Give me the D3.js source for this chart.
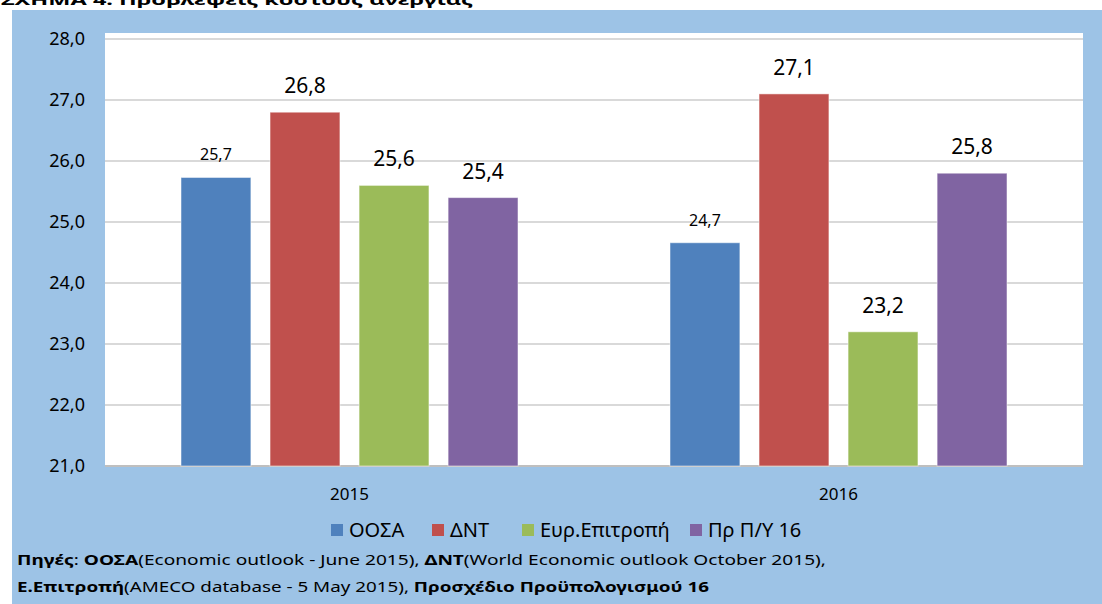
<!DOCTYPE html>
<html>
<head>
<meta charset="utf-8">
<script src="https://cdn.jsdelivr.net/npm/d3@7"></script>
<style>
  body { margin: 0; background: #fff; }
  svg { display: block; font-family: "Noto Sans", "Open Sans", sans-serif; }
</style>
</head>
<body>
<script>
// data
var years = ["2015", "2016"];
var series = ["ΟΟΣΑ", "ΔΝΤ", "Ευρ.Επιτροπή", "Πρ Π/Υ 16"];
var colors = ["#4f81bd", "#c0504d", "#9bbb59", "#8064a2"];
var oosa = [25.73, 24.66];
var dnt = [26.8, 27.1];
var eurEp = [25.6, 23.2];
var prPY = [25.4, 25.8];
var yTicks = [21, 22, 23, 24, 25, 26, 27, 28];

var W = 1102, H = 604;
var svg = d3.select("body").append("svg").attr("width", W).attr("height", H);

// title (cut at the top in the original)
svg.append("text").attr("x", 1).attr("y", 5)
  .attr("font-size", 15).attr("font-weight", "bold")
  .attr("textLength", 472).attr("lengthAdjust", "spacingAndGlyphs")
  .text("ΣΧΗΜΑ 4: Προβλέψεις κόστους ανεργίας");

// blue background
svg.append("rect").attr("x", 12).attr("y", 10).attr("width", W - 12).attr("height", H - 10)
  .attr("fill", "#9dc3e6");

var pLeft = 105, pRight = 1083, pTop = 39, pBottom = 466;

svg.append("rect").attr("x", pLeft).attr("y", pTop - 6).attr("width", pRight - pLeft).attr("height", pBottom - pTop + 6)
  .attr("fill", "#fff");

var y = d3.scaleLinear().domain([21, 28]).range([pBottom, pTop]);
var x0 = d3.scaleBand().domain(years).range([pLeft, pRight]);
var x1 = d3.scaleBand().domain(d3.range(4)).range([76, x0.bandwidth() - 76]).paddingInner(0.215);

// gridlines
svg.append("g").selectAll("line").data(yTicks).join("line")
  .attr("x1", pLeft).attr("x2", pRight)
  .attr("y1", function(d){ return y(d); }).attr("y2", function(d){ return y(d); })
  .attr("stroke", function(d){ return d == 21 ? "#bfbfbf" : "#d9d9d9"; })
  .attr("stroke-width", 2);

// y tick labels
svg.append("g").selectAll("text").data(yTicks).join("text")
  .attr("x", 85).attr("y", function(d){ return y(d) + 6; })
  .attr("text-anchor", "end").attr("font-size", 18)
  .text(function(d){ return d.toFixed(1).replace(".", ","); });

// bars
var rows = [oosa, dnt, eurEp, prPY];
var bars = [];
years.forEach(function(yr, i){
  rows.forEach(function(r, j){
    bars.push({year: yr, s: j, v: r[i]});
  });
});

svg.append("g").selectAll("rect").data(bars).join("rect")
  .attr("x", function(d){ return x0(d.year) + x1(d.s); })
  .attr("y", function(d){ return y(d.v); })
  .attr("width", x1.bandwidth())
  .attr("height", function(d){ return pBottom - y(d.v); })
  .attr("fill", function(d){ return colors[d.s]; })
  .attr("stroke", "#fff").attr("stroke-opacity", 0.5).attr("stroke-width", 1);

// value labels
svg.append("g").selectAll("text").data(bars).join("text")
  .attr("x", function(d){ return x0(d.year) + x1(d.s) + x1.bandwidth() / 2; })
  .attr("y", function(d){ return y(d.v) - (d.s == 0 ? 17 : 19); })
  .attr("text-anchor", "middle")
  .attr("font-size", function(d){ return d.s == 0 ? 16 : 21; })
  .text(function(d){ return d.v.toFixed(1).replace(".", ","); });

// category labels
svg.append("g").selectAll("text").data(years).join("text")
  .attr("x", function(d){ return x0(d) + x0.bandwidth() / 2; })
  .attr("y", 500).attr("text-anchor", "middle").attr("font-size", 17)
  .text(function(d){ return d; });

// legend
var legX = [331, 432, 522, 690];
var leg = svg.append("g").selectAll("g").data(series).join("g")
  .attr("transform", function(d, i){ return "translate(" + legX[i] + ",524)"; });
leg.append("rect").attr("width", 12).attr("height", 12).attr("fill", function(d, i){ return colors[i]; });
leg.append("text").attr("x", 18).attr("y", 13).attr("font-size", 20).text(function(d){ return d; });

// sources
var src1 = [["Πηγές", true], [": ", false], ["ΟΟΣΑ", true], ["(Economic outlook - June 2015), ", false],
  ["ΔΝΤ", true], ["(World Economic outlook October 2015),", false]];
var src2 = [["Ε.Επιτροπή", true], ["(AMECO database - 5 May 2015), ", false], ["Προσχέδιο Προϋπολογισμού 16", true]];

function srcLine(parts, yy, len){
  var t = svg.append("text").attr("x", 17).attr("y", yy).attr("font-size", 15)
    .attr("textLength", len).attr("lengthAdjust", "spacingAndGlyphs");
  parts.forEach(function(p){
    t.append("tspan").attr("font-weight", p[1] ? "bold" : "normal").text(p[0]);
  });
}
srcLine(src1, 565, 809);
srcLine(src2, 592, 692);
</script>
</body>
</html>
